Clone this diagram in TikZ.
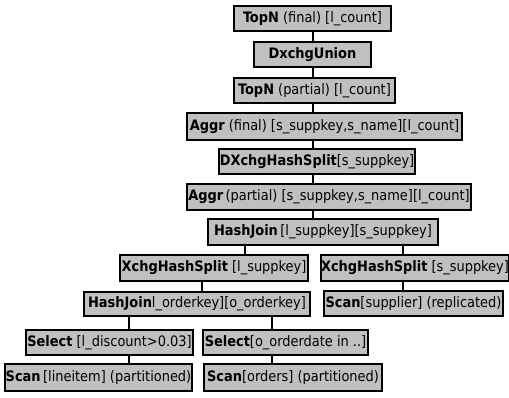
\documentclass[tikz,border=0pt]{standalone}
\usepackage{fontspec}
\setmainfont{DejaVu Sans Condensed}
\definecolor{boxgray}{HTML}{C0C0C0}
\tikzset{
  opbox/.style={draw=black, line width=1.6pt, fill=boxgray, inner sep=0pt,
    font=\fontsize{14.4}{15}\selectfont, text=black},
  conn/.style={draw=black, line width=1.6pt}
}
\begin{document}
\begin{tikzpicture}[x=1pt,y=-1pt]
\useasboundingbox (0,0) rectangle (509,397);
\node[opbox, minimum width=157, minimum height=25] (topf) at (312.5,18.5) {\textbf{TopN} (final) [l\_count]};
\node[opbox, minimum width=117, minimum height=25] (dxu) at (312.5,54.5) {\textbf{DxchgUnion}};
\node[opbox, minimum width=161, minimum height=25] (topp) at (314.5,90.5) {\textbf{TopN} (partial) [l\_count]};
\node[opbox, minimum width=275, minimum height=27] (aggf) at (324.5,126.5) {\textbf{Aggr} (final) [s\_suppkey,s\_name][l\_count]};
\node[opbox, minimum width=196, minimum height=25] (dxhs) at (317,161.5) {\textbf{DXchgHashSplit}[s\_suppkey]};
\node[opbox, minimum width=284, minimum height=26] (aggp) at (329,197) {\textbf{Aggr}\,(partial) [s\_suppkey,s\_name][l\_count]};
\node[opbox, minimum width=230, minimum height=26] (hj) at (323,232) {\textbf{HashJoin}\,[l\_suppkey][s\_suppkey]};
\node[opbox, minimum width=188, minimum height=26] (xl) at (214,268) {\textbf{XchgHashSplit} [l\_suppkey]};
\node[opbox, minimum width=184, minimum height=26] (xs) at (415,268) {\textbf{XchgHashSplit} [s\_suppkey]};
\node[opbox, minimum width=226, minimum height=24] (hjl) at (197,304) {\textbf{HashJoin}l\_orderkey][o\_orderkey]};
\node[opbox, minimum width=179, minimum height=25] (scs) at (413.5,303.5) {\textbf{Scan}[supplier] (replicated)};
\node[opbox, minimum width=167, minimum height=25] (sell) at (109.5,342.5) {\textbf{Select} [l\_discount>0.03]};
\node[opbox, minimum width=165, minimum height=25] (selo) at (285.5,342.5) {\textbf{Select}[o\_orderdate in ..]};
\node[opbox, minimum width=187, minimum height=27] (scl) at (98.5,377.5) {\textbf{Scan}\,[lineitem] (partitioned)};
\node[opbox, minimum width=178, minimum height=27] (sco) at (293,377.5) {\textbf{Scan}[orders] (partitioned)};
\draw[conn] (topf.south -| 313,0) -- (dxu.north -| 313,0);
\draw[conn] (dxu.south -| 313,0) -- (topp.north -| 313,0);
\draw[conn] (topp.south -| 313,0) -- (aggf.north -| 313,0);
\draw[conn] (aggf.south -| 313,0) -- (dxhs.north -| 313,0);
\draw[conn] (dxhs.south -| 313,0) -- (aggp.north -| 313,0);
\draw[conn] (aggp.south -| 313,0) -- (hj.north -| 313,0);
\draw[conn] (hj.south -| 245,0) -- (xl.north -| 245,0);
\draw[conn] (hj.south -| 403,0) -- (xs.north -| 403,0);
\draw[conn] (xl.south -| 202,0) -- (hjl.north -| 202,0);
\draw[conn] (xs.south -| 403,0) -- (scs.north -| 403,0);
\draw[conn] (hjl.south -| 129,0) -- (sell.north -| 129,0);
\draw[conn] (hjl.south -| 272,0) -- (selo.north -| 272,0);
\draw[conn] (sell.south -| 129,0) -- (scl.north -| 129,0);
\draw[conn] (selo.south -| 272,0) -- (sco.north -| 272,0);
\end{tikzpicture}
\end{document}
